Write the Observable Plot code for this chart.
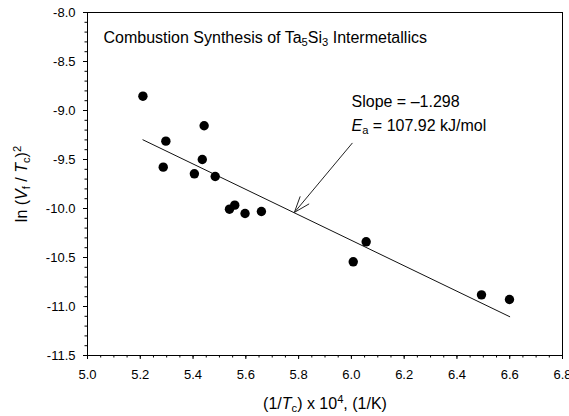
<!DOCTYPE html>
<html>
<head>
<meta charset="utf-8">
<script src="https://cdn.jsdelivr.net/npm/d3@7"></script>
<script src="https://cdn.jsdelivr.net/npm/@observablehq/plot@0.6"></script>
<style>
  html, body { margin: 0; padding: 0; background: #fff; }
  #chart { width: 569px; height: 416px; }
</style>
</head>
<body>
<div id="chart"></div>
<script>
// ---- data ----
const invTc = [5.210, 5.442, 5.297, 5.435, 5.287, 5.405, 5.484, 5.558, 5.538, 5.597, 5.659, 6.007, 6.056, 6.493, 6.599];
const lnRate = [-8.854, -9.156, -9.313, -9.500, -9.578, -9.646, -9.673, -9.966, -10.007, -10.051, -10.031, -10.544, -10.340, -10.881, -10.929];

// fitted line (slope -1.298), drawn between these ends
const fitX = [5.21, 6.60];
const fitY = [-9.299, -11.104];

// annotation arrow: from label to the fitted line
const arrowFrom = {x: 6.003, y: -9.334};
const arrowTo = {x: 5.784, y: -10.040};

const xTicks = [5.0, 5.2, 5.4, 5.6, 5.8, 6.0, 6.2, 6.4, 6.6, 6.8];
const yTicks = [-8.0, -8.5, -9.0, -9.5, -10.0, -10.5, -11.0, -11.5];
const xMinor = d3.range(0, 37).map(i => 5.0 + i * 0.05);
const yMinor = d3.range(0, 36).map(i => -8.0 - i * 0.1);

const titleText = "Combustion Synthesis of Ta_{5}Si_{3} Intermetallics";
const slopeText = "Slope = –1.298";
const eaText = "*E*_{a} = 107.92 kJ/mol";
const xLabel = "(1/*T*_{c}) x 10^{4}, (1/K)";
const yLabel = "ln (*V*_{f} / *T*_{c})^{2}";

const points = invTc.map((x, i) => ({x, y: lnRate[i]}));
const fit = fitX.map((x, i) => ({x, y: fitY[i]}));

const chart = Plot.plot({
  width: 569,
  height: 416,
  marginLeft: 87,
  marginRight: 7,
  marginTop: 12,
  marginBottom: 61,
  style: {fontFamily: "'Liberation Sans', Arial, sans-serif", fontSize: "13px", color: "black", background: "white"},
  x: {domain: [5.0, 6.8], label: null},
  y: {domain: [-11.5, -8.0], label: null},
  marks: [
    Plot.axisX({ticks: xMinor, tickSize: 2.5, tickFormat: () => "", label: null, stroke: "black"}),
    Plot.axisY({ticks: yMinor, tickSize: 2.5, tickFormat: () => "", label: null, stroke: "black"}),
    Plot.axisX({ticks: xTicks, tickSize: 4, tickPadding: 10.5, tickFormat: d => d.toFixed(1), label: null, stroke: "black"}),
    Plot.axisY({ticks: yTicks, tickSize: 4, tickPadding: 8, tickFormat: d => d.toFixed(1), label: null, stroke: "black"}),
    Plot.frame({stroke: "black", strokeWidth: 1}),
    Plot.line(fit, {x: "x", y: "y", stroke: "#111", strokeWidth: 1}),
    Plot.dot(points, {x: "x", y: "y", r: 4.7, fill: "black"}),
    Plot.arrow([{from: arrowFrom, to: arrowTo}], {
      x1: d => d.from.x, y1: d => d.from.y, x2: d => d.to.x, y2: d => d.to.y,
      stroke: "#222", strokeWidth: 1, headLength: 25, headAngle: 40
    }),
    Plot.text([titleText], {frameAnchor: "top-left", textAnchor: "start", lineAnchor: "middle", dx: 16, dy: 25, fontSize: 16, fill: "black", text: d => d}),
    Plot.text([slopeText], {frameAnchor: "top-left", textAnchor: "start", lineAnchor: "middle", dx: 264, dy: 89.5, fontSize: 16, fill: "black", text: d => d}),
    Plot.text([eaText], {frameAnchor: "top-left", textAnchor: "start", lineAnchor: "middle", dx: 264, dy: 113, fontSize: 16, fill: "black", text: d => d}),
    Plot.text([xLabel], {frameAnchor: "bottom", textAnchor: "middle", lineAnchor: "middle", dy: 48, fontSize: 16, fill: "black", text: d => d}),
    Plot.text([yLabel], {frameAnchor: "left", textAnchor: "middle", lineAnchor: "middle", rotate: -90, dx: -66, fontSize: 16, fill: "black", text: d => d})
  ]
});

document.getElementById("chart").appendChild(chart);

// rich text: _{sub}, ^{sup}, *italic*
function richify(el, spec) {
  const parts = spec.split(/(_\{[^}]*\}|\^\{[^}]*\}|\*[^*]*\*)/).filter(s => s.length);
  while (el.firstChild) el.removeChild(el.firstChild);
  const ns = "http://www.w3.org/2000/svg";
  for (const p of parts) {
    const t = document.createElementNS(ns, "tspan");
    if (p.startsWith("_{")) {
      t.textContent = p.slice(2, -1);
      t.setAttribute("font-size", "70%");
      t.setAttribute("baseline-shift", "-3");
    } else if (p.startsWith("^{")) {
      t.textContent = p.slice(2, -1);
      t.setAttribute("font-size", "70%");
      t.setAttribute("baseline-shift", "6");
    } else if (p.startsWith("*")) {
      t.textContent = p.slice(1, -1);
      t.setAttribute("font-style", "italic");
    } else {
      t.textContent = p;
    }
    el.appendChild(t);
  }
}
const specs = [titleText, eaText, xLabel, yLabel];
d3.select(chart).selectAll("text").each(function() {
  const s = this.textContent;
  if (specs.includes(s)) richify(this, s);
});
</script>
</body>
</html>
